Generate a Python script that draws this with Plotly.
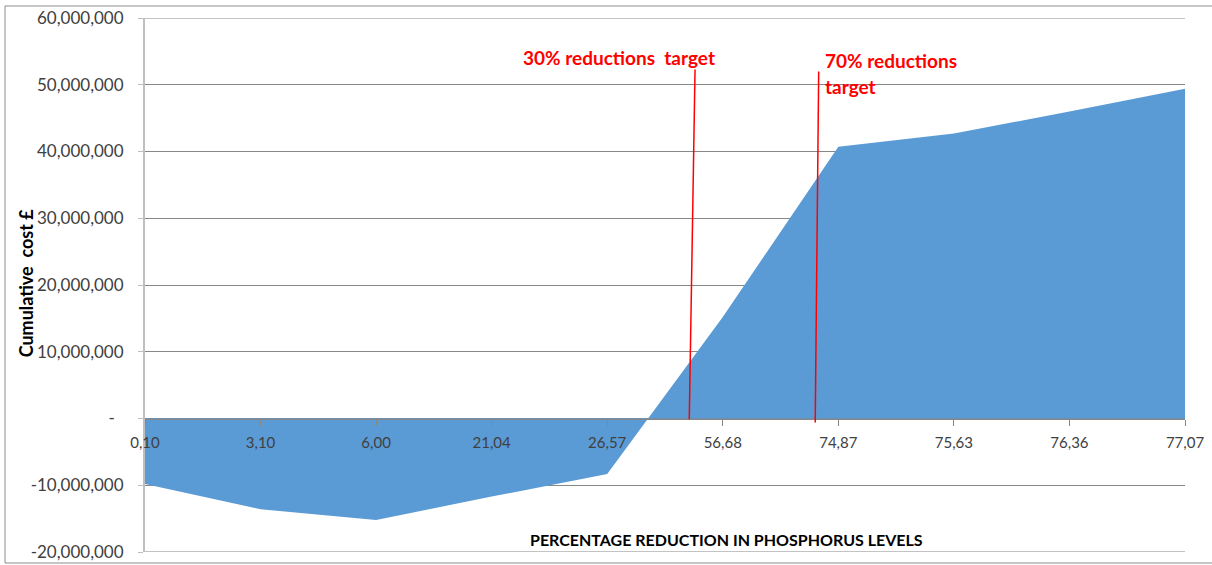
import plotly.graph_objects as go

# ---- data ----
categories = ["0,10", "3,10", "6,00", "21,04", "26,57", "56,68", "74,87", "75,63", "76,36", "77,07"]
cumulative_cost = [-9.8e6, -13.6e6, -15.2e6, -11.7e6, -8.3e6, 15.2e6, 40.7e6, 42.7e6, 46.0e6, 49.4e6]
y_tick_vals = [-20e6, -10e6, 0, 10e6, 20e6, 30e6, 40e6, 50e6, 60e6]
y_tick_text = ["-20,000,000", "-10,000,000", "-\u00a0\u00a0",
               "10,000,000", "20,000,000", "30,000,000", "40,000,000", "50,000,000", "60,000,000"]
target_labels = ["30% reductions\u00a0\u00a0target", "70% reductions", "target"]

FONT = "Lato"
GRID = "#878787"

fig = go.Figure()
fig.add_trace(go.Scatter(
    x=categories, y=cumulative_cost, mode="none", fill="tozeroy",
    fillcolor="#5B9BD5", hoverinfo="x+y", showlegend=False,
))

# gridlines at the range edges (plotly omits them)
for yv in (y_tick_vals[0], y_tick_vals[-1]):
    fig.add_shape(type="line", xref="paper", yref="y", x0=0, x1=1, y0=yv, y1=yv,
                  line=dict(color=GRID, width=1), layer="below")

# target marker lines (category-index coordinates)
fig.add_shape(type="line", xref="x", yref="y", x0=4.76, y0=52.3e6, x1=4.71, y1=-0.1e6,
              line=dict(color="#FF0000", width=1.5), layer="above")
fig.add_shape(type="line", xref="x", yref="y", x0=5.83, y0=52.0e6, x1=5.80, y1=-0.6e6,
              line=dict(color="#FF0000", width=1.5), layer="above")

# outer chart border
fig.add_shape(type="rect", xref="paper", yref="paper", x0=-0.1346, x1=1.05, y0=-0.0206, y1=1.0225,
              line=dict(color="#8C8C8C", width=1), fillcolor="rgba(0,0,0,0)", layer="below")

red_font = dict(family=FONT, size=19, color="#FF0000")
fig.add_annotation(text="<b>%s</b>" % target_labels[0], xref="x", yref="y", x=3.254, y=54.1e6,
                   xanchor="left", yanchor="middle", showarrow=False, font=red_font)
fig.add_annotation(text="<b>%s</b>" % target_labels[1], xref="x", yref="y", x=5.867, y=53.6e6,
                   xanchor="left", yanchor="middle", showarrow=False, font=red_font)
fig.add_annotation(text="<b>%s</b>" % target_labels[2], xref="x", yref="y", x=5.867, y=49.7e6,
                   xanchor="left", yanchor="middle", showarrow=False, font=red_font)

# axis titles
fig.add_annotation(text="<b>Cumulative\u00a0\u00a0cost £</b>", xref="paper", yref="paper",
                   x=-0.1149, y=0.504, textangle=-90, showarrow=False,
                   xanchor="center", yanchor="middle",
                   font=dict(family=FONT, size=18, color="#000000"))
fig.add_annotation(text="<b>PERCENTAGE REDUCTION IN PHOSPHORUS LEVELS</b>", xref="paper", yref="paper",
                   x=0.5596, y=0.0225, showarrow=False, xanchor="center", yanchor="middle",
                   font=dict(family=FONT, size=16, color="#000000"))

fig.update_layout(
    width=1212, height=565,
    margin=dict(l=145, r=27, t=18, b=13, autoexpand=False),
    paper_bgcolor="white", plot_bgcolor="white",
    showlegend=False,
    xaxis=dict(
        type="category", categoryorder="array", categoryarray=categories,
        range=[0, 9], anchor="free", position=0.25, automargin=False,
        showline=True, linecolor=GRID, linewidth=1,
        ticks="outside", ticklen=6, tickcolor=GRID, tickwidth=1,
        showgrid=False, zeroline=False, ticklabelstandoff=4,
        tickfont=dict(family=FONT, size=15, color="#404040"),
    ),
    yaxis=dict(
        range=[-20e6, 60e6], tickvals=y_tick_vals, ticktext=y_tick_text,
        automargin=False,
        showgrid=True, gridcolor=GRID, gridwidth=1,
        showline=True, linecolor="#BFBFBF", linewidth=2,
        ticks="outside", ticklen=5, tickcolor="#BFBFBF",
        zeroline=False, ticklabelstandoff=11,
        tickfont=dict(family=FONT, size=17, color="#404040"),
    ),
)

fig.write_html("out.html", config={"displayModeBar": False},
               post_script="document.body.style.margin='0px';")
